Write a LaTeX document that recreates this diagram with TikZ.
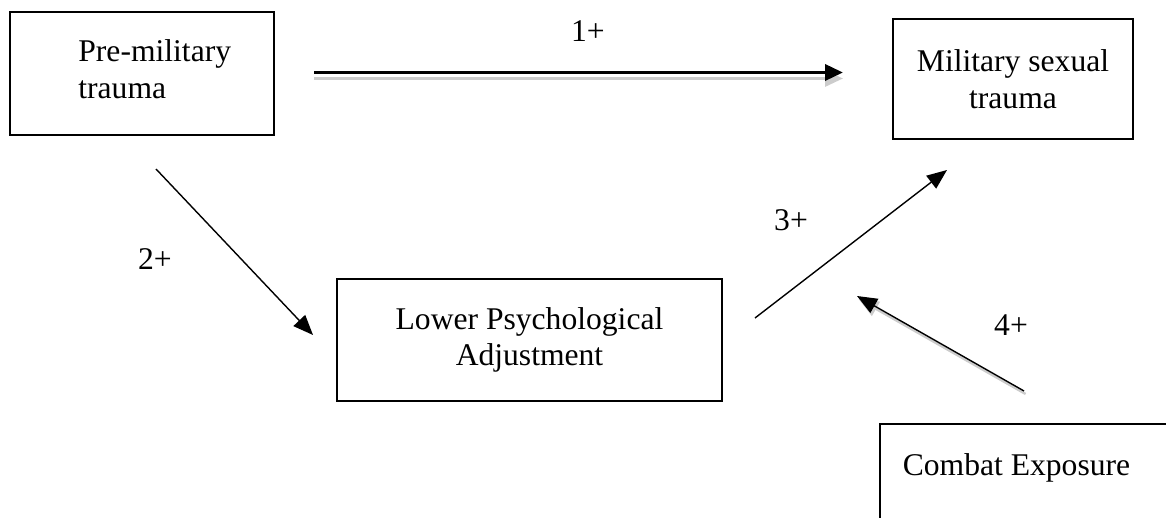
\documentclass[tikz,border=0pt]{standalone}
\usepackage{fontspec}
\setmainfont{Liberation Serif}
\usetikzlibrary{arrows.meta}
\tikzstyle{box}=[rectangle, draw, line width=1pt, inner sep=0pt]
\tikzstyle{txt}=[inner sep=0pt, font=\fontsize{15.8}{18.2}\selectfont]
\tikzstyle{arr}=[line width=0.7pt, -{Triangle[length=10pt,width=8pt]}]
\tikzstyle{shade}=[draw=black!20, fill=black!20]

\begin{document}
\begin{tikzpicture}[x=0.5pt, y=-0.5pt]
            \useasboundingbox (0,0) rectangle (1166,518);
            \clip (0,0) rectangle (1166,518);
            %\draw[step=50, gray, very thin] (0,0) grid (1166,518);

            %%%%% boxes
            \node[box, minimum width=132pt, minimum height=61.5pt] (pre) at (142,73.5) {};
            \node[txt, align=left, anchor=west] (pretxt) at (78,69.2) {Pre-military\\trauma};
            \node[box, minimum width=120pt, minimum height=60pt] (mst) at (1013,79) {};
            \node[txt, align=center] (msttxt) at (1013,79.2) {Military sexual\\trauma};
            \node[box, minimum width=192.5pt, minimum height=61pt] (lpa) at (529.5,340) {};
            \node[txt, align=center] (lpatxt) at (529.5,340) {Lower Psychological\\Adjustment};
            \node[box, minimum width=160pt, minimum height=70pt] (cbe) at (1040,494) {};
            \node[txt, anchor=base] (cbetxt) at (1016.5,475) {Combat Exposure};

            %%%%% arrow ends
            \coordinate (s1) at (314,72.5);
            \coordinate (e1) at (843,72.5);
            \coordinate (s2) at (156,169);
            \coordinate (e2) at (313,335);
            \coordinate (s3) at (755,318);
            \coordinate (e3) at (947,170);
            \coordinate (s4) at (1024,391);
            \coordinate (e4) at (857,296);

            %%%%% 1+
            \draw[arr, shade, line width=1.5pt, -{Triangle[length=9pt,width=8pt]}, transform canvas={yshift=-3pt}] (s1) -- (e1);
            \draw[arr, line width=1.75pt, -{Triangle[length=9pt,width=8pt]}] (s1) -- (e1);
            \node[txt] (lbl1) at (588,31) {1+};
            %%%%% 2+
            \draw[arr] (s2) -- (e2);
            \node[txt] (lbl2) at (155,259) {2+};
            %%%%% 3+
            \draw[arr] (s3) -- (e3);
            \node[txt] (lbl3) at (791,220) {3+};
            %%%%% 4+
            \draw[arr, shade, line width=1.2pt, transform canvas={xshift=0.8pt, yshift=-1.5pt}] (s4) -- (e4);
            \draw[arr] (s4) -- (e4);
            \node[txt] (lbl4) at (1011,325) {4+};
        \end{tikzpicture}
\end{document}
